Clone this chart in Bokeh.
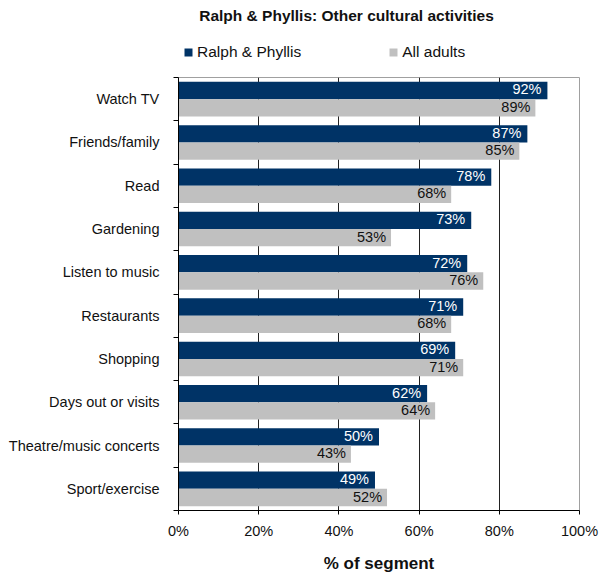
from bokeh.plotting import figure
from bokeh.layouts import column
from bokeh.models import Range1d, FixedTicker, ColumnDataSource, Legend, LegendItem, Label
from bokeh.core.properties import value
from bokeh.embed import file_html
from bokeh.resources import INLINE

categories = ["Watch TV", "Friends/family", "Read", "Gardening", "Listen to music",
              "Restaurants", "Shopping", "Days out or visits", "Theatre/music concerts",
              "Sport/exercise"]
ralph_phyllis = [92, 87, 78, 73, 72, 71, 69, 62, 50, 49]
all_adults = [89, 85, 68, 53, 76, 68, 71, 64, 43, 52]
x_ticks = [0, 20, 40, 60, 80, 100]
x_tick_labels = ["0%", "20%", "40%", "60%", "80%", "100%"]
series_names = ["Ralph & Phyllis", "All adults"]
title_text = "Ralph & Phyllis: Other cultural activities"
x_label = "% of segment"

NAVY = "#003366"
GREY = "#C0C0C0"
FONT = "Liberation Sans"
W = 610
HEAD_H = 76
MAIN_H = 499
BORDER_L = 178
BORDER_R = 31

n = len(categories)
centers = [i + 0.5 for i in range(n)]
src_a = ColumnDataSource(dict(y=[c - 0.2 for c in centers], v=ralph_phyllis,
                              t=[f"{v}%" for v in ralph_phyllis]))
src_b = ColumnDataSource(dict(y=[c + 0.2 for c in centers], v=all_adults,
                              t=[f"{v}%" for v in all_adults]))

# ---------- header: title + legend (its bars lie outside its view; only legend keys show) ----------
head = figure(width=W, height=HEAD_H, x_range=Range1d(0, 100), y_range=Range1d(n + 1, n + 2),
              output_backend="svg", toolbar_location=None, title=None,
              x_axis_location=None, y_axis_location=None,
              min_border_left=BORDER_L, min_border_right=BORDER_R,
              min_border_top=0, min_border_bottom=0)
head.outline_line_color = None
head.xgrid.visible = False
head.ygrid.visible = False
head.background_fill_color = "white"
head.border_fill_color = "white"

k_a = head.hbar(y="y", right="v", left=0, height=0.4, source=src_a, fill_color=NAVY, line_color=None)
k_b = head.hbar(y="y", right="v", left=0, height=0.4, source=src_b, fill_color=GREY, line_color=None)

head.add_layout(Label(x=168, y=HEAD_H - 15, x_units="screen", y_units="screen", text=title_text,
                      text_align="center", text_baseline="middle", text_font=FONT,
                      text_font_style="bold", text_font_size="15.5px", text_color="#111111"))

legend = Legend(items=[LegendItem(label=series_names[0], renderers=[k_a]),
                       LegendItem(label=series_names[1], renderers=[k_b])],
                orientation="horizontal", location=(5, HEAD_H - 52 - 10))
legend.padding = 0
legend.margin = 0
legend.spacing = 87
legend.glyph_width = 10
legend.glyph_height = 10
legend.label_standoff = 4
legend.label_height = 20
legend.label_text_font = FONT
legend.label_text_font_size = "15.5px"
legend.label_text_color = "#111111"
legend.border_line_color = None
legend.background_fill_alpha = 0
head.add_layout(legend, "center")

# ---------- main chart ----------
p = figure(width=W, height=MAIN_H, x_range=Range1d(0, 100), y_range=Range1d(n, 0),
           output_backend="svg", toolbar_location=None, title=None,
           min_border_left=BORDER_L, min_border_right=BORDER_R, min_border_top=1,
           min_border_bottom=64)
p.background_fill_color = "white"
p.border_fill_color = "white"
p.outline_line_color = "#A0A0A0"

p.hbar(y="y", right="v", left=0, height=0.4, source=src_a, fill_color=NAVY, line_color=None)
p.hbar(y="y", right="v", left=0, height=0.4, source=src_b, fill_color=GREY, line_color=None)

p.text(x="v", y="y", text="t", source=src_a, text_align="right", text_baseline="middle",
       x_offset=-6, y_offset=-1, text_color="white", text_font_size="14.5px",
       text_font=value(FONT))
p.text(x="v", y="y", text="t", source=src_b, text_align="right", text_baseline="middle",
       x_offset=-5, y_offset=-1, text_color="#111111", text_font_size="14.5px",
       text_font=value(FONT))

xa = p.xaxis[0]
xa.ticker = FixedTicker(ticks=x_ticks)
xa.major_label_overrides = {t: l for t, l in zip(x_ticks, x_tick_labels)}
xa.major_tick_out = 4
xa.major_tick_in = 0
xa.minor_tick_out = 0
xa.minor_tick_in = 0
xa.axis_line_color = "black"
xa.major_tick_line_color = "black"
xa.major_label_text_font = FONT
xa.major_label_text_font_size = "14.5px"
xa.major_label_text_color = "#111111"
xa.major_label_standoff = 8
xa.axis_label = x_label
xa.axis_label_text_font = FONT
xa.axis_label_text_font_style = "bold"
xa.axis_label_text_font_size = "17px"
xa.axis_label_text_color = "#111111"
xa.axis_label_standoff = 12

ya = p.yaxis[0]
ya.ticker = FixedTicker(ticks=centers, minor_ticks=list(range(n + 1)))
ya.major_label_overrides = {c: cat for c, cat in zip(centers, categories)}
ya.major_tick_out = 0
ya.major_tick_in = 0
ya.minor_tick_out = 5
ya.minor_tick_in = 0
ya.minor_tick_line_color = "black"
ya.axis_line_color = "black"
ya.major_label_text_font = FONT
ya.major_label_text_font_size = "14.5px"
ya.major_label_text_color = "#111111"
ya.major_label_standoff = 14

p.xgrid.grid_line_color = "#222222"
p.xgrid.ticker = FixedTicker(ticks=x_ticks)
p.ygrid.grid_line_color = None

layout = column(head, p, spacing=0)
open("out.html", "w").write(file_html(layout, INLINE))
